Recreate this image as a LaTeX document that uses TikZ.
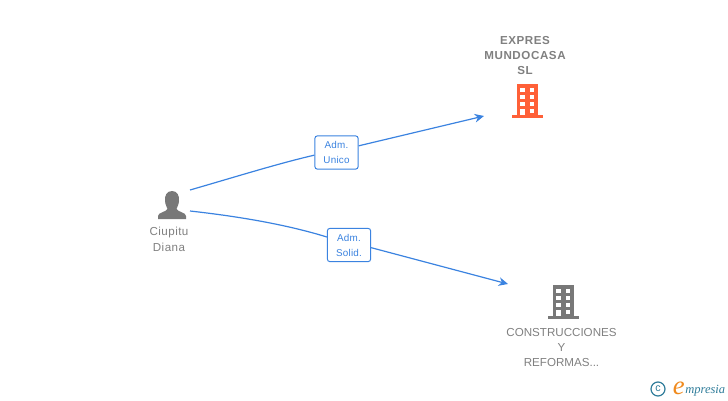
\documentclass[tikz,border=0pt]{standalone}
\usepackage{fontspec}
\setmainfont{Liberation Sans}
\newfontfamily\logofont{Liberation Serif}
\usepackage{xcolor}
\usetikzlibrary{arrows.meta}
\definecolor{linkblue}{HTML}{3B83E0}
\definecolor{iconorange}{HTML}{FF6038}
\definecolor{icongray}{HTML}{787878}
\definecolor{textgray}{HTML}{808080}
\definecolor{logoteal}{HTML}{2F7C9A}
\definecolor{logoorange}{HTML}{F08A1D}
\tikzset{
  rolebox/.style={draw=linkblue, fill=white, rounded corners=2pt, line width=0.75pt, inner sep=0pt,
    minimum width=32.5pt, minimum height=25pt, align=center, text=linkblue,
    font=\fontsize{7.4}{11.25}\selectfont\addfontfeatures{LetterSpace=2}},
  namelabel/.style={text=textgray, align=center, inner sep=0pt, font=\fontsize{8.7}{11.6}\selectfont},
  link/.style={linkblue, line width=0.9pt},
  building/.pic={
    \fill[pic actions] (-15.5,17) rectangle (15.5,14);
    \fill[pic actions] (-10.5,14) -- (-10.5,-17) -- (10.5,-17) -- (10.5,14) -- cycle;
    \foreach \wy in {-13,-6,1} {
      \fill[white] (-7.5,\wy) rectangle (-3,\wy+4);
      \fill[white] (2,\wy) rectangle (6.5,\wy+4);
    }
    \fill[white] (-7.5,7.5) rectangle (-3,14);
    \fill[white] (2,7.5) rectangle (6.5,11.5);
  }
}
\begin{document}
\begin{tikzpicture}[x=0.75pt, y=-0.75pt]
  \useasboundingbox (0,0) rectangle (728,400);

  % Person icon
  \fill[icongray] (172,191) .. controls (166.5,191) and (164.5,196) .. (165,201)
    .. controls (165.3,205) and (167,207) .. (167.5,209)
    .. controls (166,212) and (158,212.5) .. (158,216) -- (158,219) -- (186,219) -- (186,216)
    .. controls (186,212.5) and (178,212) .. (176.5,209)
    .. controls (177,207) and (178.7,205) .. (179,201)
    .. controls (179.5,196) and (177.5,191) .. (172,191) -- cycle;
  \node[namelabel, font=\fontsize{8.7}{11.6}\selectfont\addfontfeatures{LetterSpace=4}] (ciupitu) at (169,239.5) {Ciupitu\\Diana};
  \coordinate (ciupitutop) at (190,190);
  \coordinate (ciupitulow) at (190,211);

  % Companies
  \pic[iconorange] at (527.5,101) {building};
  \node[namelabel, font=\fontsize{8.7}{11.6}\selectfont\bfseries\addfontfeatures{LetterSpace=5}] (expres) at (525,55.5) {EXPRES\\MUNDOCASA\\SL};
  \coordinate (expresin) at (484,116);

  \pic[icongray] at (563.5,302) {building};
  \node[namelabel] (construcciones) at (561.5,347.5) {CONSTRUCCIONES\\Y\\REFORMAS...};
  \coordinate (construccionesin) at (508,284);

  % Role boxes
  \node[rolebox] (unico) at (336.5,152.5) {Adm.\\Unico};
  \node[rolebox] (solid) at (349,245) {Adm.\\Solid.};

  % Links
  \draw[link] (ciupitutop) .. controls (235,177) and (280,163) .. ([yshift=-2pt]unico.west);
  \draw[link, -{Stealth[length=7pt, width=6.5pt]}] ([yshift=5pt]unico.east) -- (expresin);
  \draw[link] (ciupitulow) .. controls (235,216) and (285,224) .. ([yshift=6pt]solid.west);
  \draw[link, -{Stealth[length=7pt, width=6.5pt]}] ([yshift=-2pt]solid.east) -- (construccionesin);

  % Logo
  \node[draw=logoteal, line width=0.9pt, circle, minimum size=10.5pt, inner sep=0pt, text=logoteal, font=\fontsize{8}{8}\selectfont] (copyright) at (658,389) {c};
  \node[text=logoteal, inner sep=0pt, anchor=base west, font=\logofont\itshape\fontsize{9.4}{12}\selectfont] (logo) at (685,393) {mpresia};
  \node[text=logoorange, inner sep=0pt, anchor=base east, font=\logofont\itshape\fontsize{20}{20}\selectfont] (logoe) at (685,394) {e};
\end{tikzpicture}
\end{document}
